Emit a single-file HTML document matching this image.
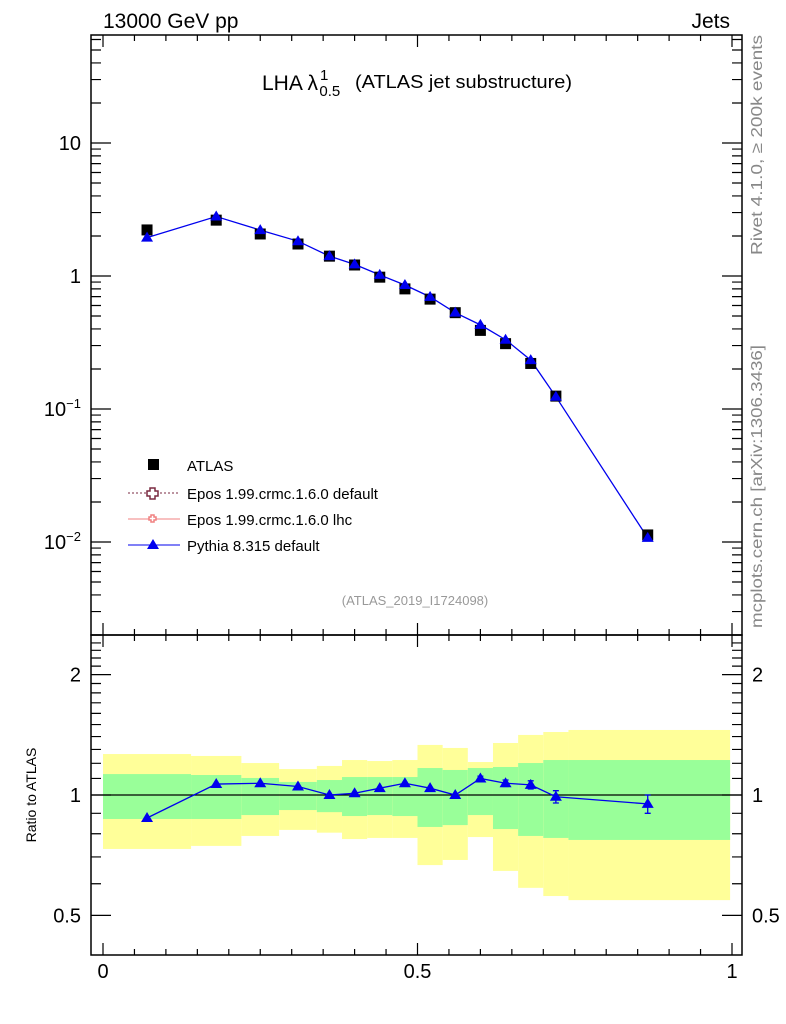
<!DOCTYPE html>
<html><head><meta charset="utf-8"><style>
html,body{margin:0;padding:0;background:#fff;}
svg{display:block;font-family:"Liberation Sans",sans-serif;}
</style></head><body>
<svg id="c" width="786" height="1024" viewBox="0 0 786 1024" xmlns="http://www.w3.org/2000/svg">
<text x="103" y="28" font-size="21">13000 GeV pp</text>
<text x="730" y="28" font-size="21" text-anchor="end">Jets</text>
<text x="262" y="90" font-size="21">LHA λ<tspan font-size="15" dx="2" dy="-10">1</tspan><tspan font-size="15" dx="-9" dy="16">0.5</tspan></text>
<text x="355" y="88" font-size="18" textLength="217" lengthAdjust="spacingAndGlyphs">(ATLAS jet substructure)</text>
<text x="415" y="605" font-size="13" fill="#999" text-anchor="middle">(ATLAS_2019_I1724098)</text>
<text transform="translate(762,255) rotate(-90)" font-size="16" fill="#888" textLength="220" lengthAdjust="spacingAndGlyphs">Rivet 4.1.0, ≥ 200k events</text>
<text transform="translate(762,628) rotate(-90)" font-size="16" fill="#888" textLength="283" lengthAdjust="spacingAndGlyphs">mcplots.cern.ch [arXiv:1306.3436]</text>
<text transform="translate(36,795) rotate(-90)" font-size="14" text-anchor="middle">Ratio to ATLAS</text>
<g id="bands"></g><g id="main"></g><g id="ratio"></g><g id="axes"></g>
<g>
<rect x="148" y="459" width="11" height="11" fill="#000"/>
<text x="187" y="471" font-size="15">ATLAS</text>
<line x1="128" y1="493" x2="180" y2="493" stroke="#7a2a40" stroke-dasharray="2,2"/>
<path d="M150,488h5v3h3v5h-3v3h-5v-3h-3v-5h3z" fill="#fff" stroke="#7a2a40" stroke-width="1.5"/>
<text x="187" y="499" font-size="15">Epos 1.99.crmc.1.6.0 default</text>
<line x1="128" y1="519" x2="180" y2="519" stroke="#f08080"/>
<path d="M151,515h3v2h2v3h-2v2h-3v-2h-2v-3h2z" fill="#fff" stroke="#f08080" stroke-width="1.5"/>
<text x="187" y="525" font-size="15">Epos 1.99.crmc.1.6.0 lhc</text>
<line x1="128" y1="545" x2="180" y2="545" stroke="#0000ee"/>
<path d="M153,539l6,10h-12z" fill="#0000ee"/>
<text x="187" y="551" font-size="15">Pythia 8.315 default</text>
</g>
</svg>
<script>
const xVals=[0.07,0.18,0.25,0.31,0.36,0.40,0.44,0.48,0.52,0.56,0.60,0.64,0.68,0.72,0.866];
const atlasVals=[2.22,2.63,2.07,1.74,1.41,1.21,0.98,0.80,0.67,0.53,0.39,0.31,0.22,0.125,0.0113];
const pythiaRatio=[0.876,1.065,1.07,1.05,1.00,1.01,1.04,1.07,1.04,1.00,1.10,1.07,1.06,0.99,0.95];
const pythiaErr=[0.005,0.005,0.005,0.005,0.005,0.005,0.005,0.005,0.005,0.01,0.015,0.02,0.025,0.035,0.05];
const binEdges=[0,0.14,0.22,0.28,0.34,0.38,0.42,0.46,0.50,0.54,0.58,0.62,0.66,0.70,0.74,0.997];
const yellowHi=[1.266,1.252,1.202,1.161,1.182,1.223,1.216,1.223,1.334,1.311,1.209,1.349,1.413,1.437,1.454];
const greenHi=[1.128,1.122,1.103,1.078,1.090,1.109,1.109,1.109,1.168,1.155,1.168,1.175,1.202,1.223,1.223];
const greenLo=[0.871,0.871,0.891,0.917,0.906,0.886,0.891,0.886,0.832,0.841,0.891,0.822,0.790,0.781,0.772];
const yellowLo=[0.733,0.746,0.790,0.818,0.805,0.776,0.781,0.781,0.668,0.688,0.785,0.646,0.586,0.559,0.546];
const mainTicks=["10","1","10<tspan font-size='13' dy='-8'>−1</tspan>","10<tspan font-size='13' dy='-8'>−2</tspan>"];
const mainTickVals=[10,1,0.1,0.01];
const ratioTickVals=[2,1,0.5];
const ratioTickLabels=["2","1","0.5"];
const xTickVals=[0,0.5,1];
const xTickLabels=["0","0.5","1"];

const X=v=>103+629*v;
const Y=v=>276-133*Math.log10(v);
const R=v=>795-400*Math.log10(v);
const NS="http://www.w3.org/2000/svg";
function mk(p,tag,a){const e=document.createElementNS(NS,tag);for(const k in a)e.setAttribute(k,a[k]);p.appendChild(e);return e;}
const bands=document.getElementById('bands'),main=document.getElementById('main'),ratio=document.getElementById('ratio'),axes=document.getElementById('axes');
for(let i=0;i<yellowHi.length;i++){
 const x0=X(binEdges[i]),x1=X(binEdges[i+1]);
 let e=mk(bands,'rect',{x:x0,y:R(yellowHi[i]),width:x1-x0,height:R(yellowLo[i])-R(yellowHi[i]),fill:'#ffff99'});
 
 
 e=mk(bands,'rect',{x:x0,y:R(greenHi[i]),width:x1-x0,height:R(greenLo[i])-R(greenHi[i]),fill:'#99ff99'});
 
 
}
let l=mk(ratio,'line',{x1:91,x2:742,y1:R(1),y2:R(1),stroke:'#000','stroke-width':1.3});


let pts=xVals.map((x,i)=>X(x)+','+Y(atlasVals[i]*pythiaRatio[i])).join(' ');
l=mk(main,'polyline',{points:pts,fill:'none',stroke:'#0000ee','stroke-width':1.3});


pts=xVals.map((x,i)=>X(x)+','+R(pythiaRatio[i])).join(' ');
l=mk(ratio,'polyline',{points:pts,fill:'none',stroke:'#0000ee','stroke-width':1.3});


xVals.forEach((x,i)=>{
 const px=X(x);
 let e=mk(main,'rect',{x:px-5.5,y:Y(atlasVals[i])-5.5,width:11,height:11,fill:'#000'});
 
 
 const py=Y(atlasVals[i]*pythiaRatio[i]);
 e=mk(main,'path',{d:`M${px},${py-6}l6,10h-12z`,fill:'#0000ee'});
 
 
 const ry=R(pythiaRatio[i]);
 e=mk(ratio,'path',{d:`M${px},${ry-6}l6,10h-12z`,fill:'#0000ee'});
 
 
 const t=R(pythiaRatio[i]+pythiaErr[i]),b=R(pythiaRatio[i]-pythiaErr[i]);
 if(b-t>4){e=mk(ratio,'path',{d:`M${px},${t}V${b}M${px-3},${t}h6M${px-3},${b}h6`,stroke:'#0000ee','stroke-width':1.3,fill:'none'});
 
 }
});
let f=mk(axes,'rect',{x:91,y:35,width:651,height:600,fill:'none',stroke:'#000','stroke-width':1.5});


f=mk(axes,'rect',{x:91,y:635,width:651,height:320,fill:'none',stroke:'#000','stroke-width':1.5});


let d='';
for(let k=0;k<=20;k++){const px=X(k*0.05);const L=(k%10==0)?12:6;
 d+=`M${px},35v${L}M${px},635v-${L}M${px},635v${L}M${px},955v-${L}`;}
for(let e=-3;e<=1;e++)for(let m=1;m<10;m++){const v=m*Math.pow(10,e);const py=Y(v);if(py<35||py>635)continue;const L=m==1?20:10;
 d+=`M91,${py}h${L}M742,${py}h-${L}`;}
for(let v=0.4;v<=2.5;v+=0.1){const py=R(v);if(py<636||py>954)continue;const L=(Math.abs(v-1)<1e-6||Math.abs(v-2)<1e-6||Math.abs(v-0.5)<1e-6)?20:10;
 d+=`M91,${py}h${L}M742,${py}h-${L}`;}
f=mk(axes,'path',{d:d,stroke:'#000','stroke-width':1.2,fill:'none'});


mainTickVals.forEach((v,i)=>{const t=mk(axes,'text',{x:81,y:Y(v)+7,'font-size':20,'text-anchor':'end'});t.innerHTML=mainTicks[i];
 
 });
ratioTickVals.forEach((v,i)=>{let t=mk(axes,'text',{x:81,y:R(v)+7,'font-size':20,'text-anchor':'end'});t.textContent=ratioTickLabels[i];
 
 
 t=mk(axes,'text',{x:752,y:R(v)+7,'font-size':20});t.textContent=ratioTickLabels[i];
 
 });
xTickVals.forEach((v,i)=>{const t=mk(axes,'text',{x:X(v),y:978,'font-size':20,'text-anchor':'middle'});t.textContent=xTickLabels[i];
 
 });
</script>
</body></html>
